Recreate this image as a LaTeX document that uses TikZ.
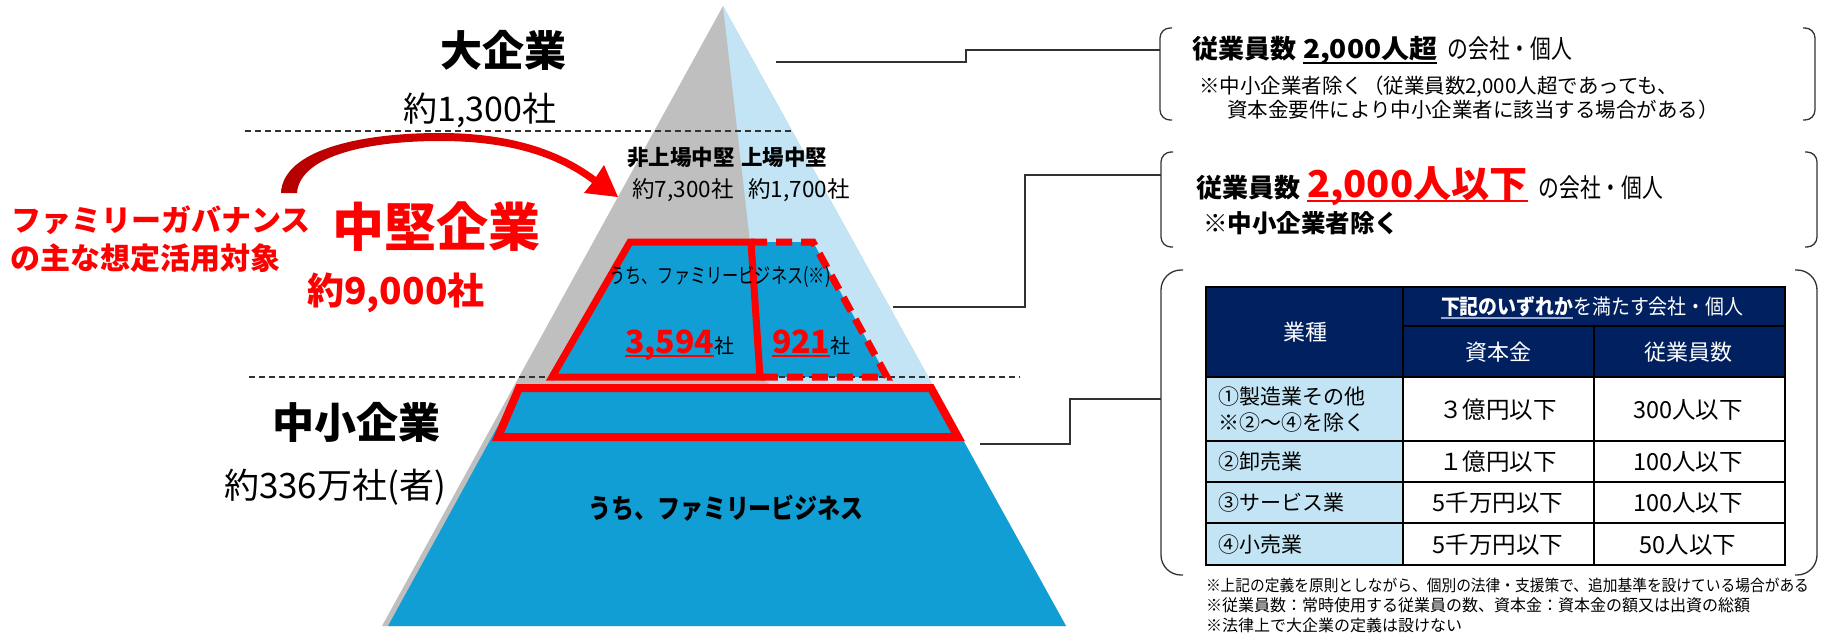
\documentclass[tikz,border=0pt]{standalone}
\usepackage{fontspec}
\usepackage{graphicx}
\setmainfont{Noto Sans CJK JP}
\usetikzlibrary{arrows.meta}
\definecolor{pgray}{RGB}{191,191,191}
\definecolor{plblue}{RGB}{194,228,244}
\definecolor{pblue}{RGB}{17,158,213}
\definecolor{pred}{RGB}{255,0,0}
\definecolor{pdred}{RGB}{180,0,0}
\definecolor{navy}{RGB}{0,32,96}
\definecolor{tlblue}{RGB}{194,228,244}
\definecolor{lineg}{RGB}{50,50,50}
\definecolor{ulblue}{RGB}{150,170,210}
\newcommand\fsz[1]{\fontsize{#1}{#1}\selectfont}
\newcommand\hs[2]{\scalebox{#1}[1]{#2}}
\begin{document}
\begin{tikzpicture}[x=1pt,y=-1pt,
  txt/.style={inner sep=0pt,outer sep=0pt},
  conn/.style={line width=1.6pt,draw=lineg},
  brk/.style={line width=1.3pt,draw=lineg,rounded corners=#1},
  guide/.style={draw=lineg,line width=1.4pt,dash pattern=on 6pt off 4pt},
  redbox/.style={draw=pred,line width=7pt},
  grid/.style={draw=black,line width=2.5pt},
]
\useasboundingbox (0,0) rectangle (1825,634);
% ---------------- pyramid ----------------
\fill[pgray] (723,6) -- (382,626) -- (1066,626) -- cycle;
\fill[plblue] (723,6) -- (766,381) -- (1066,626) -- cycle;
\fill[pblue] (630,242) -- (813,242) -- (887,377) -- (552,377) -- cycle;
\fill[pblue] (521,384) -- (932,384) -- (1066,626) -- (388,626) -- cycle;
% guide lines
\coordinate (g1a) at (245,131); \coordinate (g1b) at (792,131);
\draw[guide] (g1a) -- (g1b);
\coordinate (g2a) at (249,377); \coordinate (g2b) at (1020,377);
\draw[guide] (g2a) -- (g2b);
% red boxes
\draw[redbox] (630,242) -- (751,242) -- (760,377) -- (552,377) -- cycle;
\draw[redbox, dash pattern=on 16pt off 9pt] (751,242) -- (813,242) -- (887,377) -- (760,377);
\draw[redbox, line width=8pt] (519,388) -- (931,388) -- (958,437) -- (498,437) -- cycle;
% ---------------- red arrow ----------------
\shade[left color=pdred,right color=pred]
  (281,193) .. controls (283,150) and (360,133) .. (440,133)
  .. controls (510,133) and (560,150) .. (596,177)
  -- (604,165) -- (618,197) -- (584,193) -- (592,183)
  .. controls (556,156) and (508,141) .. (440,141)
  .. controls (370,141) and (300,155) .. (297,193) -- cycle;
% ---------------- left labels ----------------
\node[txt,font=\fsz{42}\bfseries] (daikigyo) at (503,50) {大企業};
\node[txt,font=\fsz{34}] (daikigyoN) at (480,110) {約1,300社};
\node[txt,font=\fsz{52}\bfseries,text=pred] (chuken) at (436,227) {中堅企業};
\node[txt,font=\fsz{37}\bfseries,text=pred] (chukenN) at (396,293) {約9,000社};
\node[txt,font=\fsz{30}\bfseries,text=pred,anchor=west] (fg1) at (11,220) {ファミリーガバナンス};
\node[txt,font=\fsz{30}\bfseries,text=pred,anchor=west] (fg2) at (10,258) {の主な想定活用対象};
\node[txt,font=\fsz{42}\bfseries] (chusho) at (356,422) {中小企業};
\node[txt,font=\fsz{35}] (chushoN) at (335,487) {約336万社(者)};
% ---------------- pyramid texts ----------------
\node[txt,font=\fsz{21.5}\bfseries] (hijo) at (681,157) {非上場中堅};
\node[txt,font=\fsz{21.5}\bfseries] (jojo) at (784,157) {上場中堅};
\node[txt,font=\fsz{22.5}] (hijoN) at (683,190) {約7,300社};
\node[txt,font=\fsz{22.5}] (jojoN) at (799,190) {約1,700社};
\node[txt,font=\fsz{21}] (fb1) at (720,277) {\hs{0.77}{うち、ファミリービジネス(※)}};
\node[txt,font=\fsz{32}\bfseries,text=pred,anchor=base west] (n3594) at (625,353) {3,594};
\node[txt,font=\fsz{20},anchor=base west] (s3594) at (n3594.base east) {社};
\draw[pred,line width=2pt] ([yshift=-3pt]n3594.base west) -- ([yshift=-3pt]n3594.base east);
\node[txt,font=\fsz{32}\bfseries,text=pred,anchor=base west] (n921) at (772,353) {921};
\node[txt,font=\fsz{20},anchor=base west] (s921) at (n921.base east) {社};
\draw[pred,line width=2pt] ([yshift=-3pt]n921.base west) -- ([yshift=-3pt]n921.base east);
\node[txt,font=\fsz{27}\bfseries] (fb2) at (726,508) {\hs{0.85}{うち、ファミリービジネス}};
% ---------------- brackets ----------------
\draw[brk=10] (1172,28) -- (1160,28) -- (1160,120) -- (1172,120);
\draw[brk=10] (1803,28) -- (1815,28) -- (1815,120) -- (1803,120);
\draw[brk=10] (1173,152) -- (1161,152) -- (1161,247) -- (1173,247);
\draw[brk=10] (1805,152) -- (1817,152) -- (1817,247) -- (1805,247);
\draw[brk=20] (1183,270) -- (1161,270) -- (1161,575) -- (1183,575);
\draw[brk=20] (1795,270) -- (1817,270) -- (1817,575) -- (1795,575);
% connectors
\coordinate (p1) at (776,62);  \coordinate (b1) at (1160,50);
\coordinate (p2) at (893,307); \coordinate (b2) at (1161,175);
\coordinate (p3) at (980,444); \coordinate (b3) at (1161,399);
\draw[conn] (p1) -- (966,62) |- (b1);
\draw[conn] (p2) -- (1025,307) |- (b2);
\draw[conn] (p3) -- (1070,444) |- (b3);
% ---------------- bracket 1 text ----------------
\node[txt,font=\fsz{26}\bfseries,anchor=base west] (e1a) at (1192,59) {従業員数};
\node[txt,font=\fsz{26}\bfseries,anchor=base west] (e1b) at (1303,59) {\hs{1.08}{2,000人超}};
\draw[line width=1.8pt] ([yshift=-4pt]e1b.base west) -- ([yshift=-4pt]e1b.base east);
\node[txt,font=\fsz{26},anchor=base west] (e1c) at ([xshift=10pt]e1b.base east) {\hs{0.8}{の会社・個人}};
\node[txt,font=\fsz{20.5},anchor=west] (e1d) at (1199,87) {※中小企業者除く（従業員数2,000人超であっても、};
\node[txt,font=\fsz{20.5},anchor=west] (e1e) at (1227,110) {資本金要件により中小企業者に該当する場合がある）};
% ---------------- bracket 2 text ----------------
\node[txt,font=\fsz{26}\bfseries,anchor=base west] (e2a) at (1196,197) {従業員数};
\node[txt,font=\fsz{37}\bfseries,text=pred,anchor=base west] (e2b) at (1307,197) {\hs{1.03}{2,000人以下}};
\draw[pred,line width=2pt] ([yshift=-4pt]e2b.base west) -- ([yshift=-4pt]e2b.base east);
\node[txt,font=\fsz{26},anchor=base west] (e2c) at ([xshift=11pt]e2b.base east) {\hs{0.8}{の会社・個人}};
\node[txt,font=\fsz{24.5}\bfseries,anchor=west] (e2d) at (1203,223) {※中小企業者除く};
% ---------------- table ----------------
\fill[navy] (1206,287) rectangle (1785,377);
\fill[tlblue] (1206,377) rectangle (1403,565);
\fill[white] (1403,377) rectangle (1785,565);
\draw[grid] (1206,287) rectangle (1785,565);
\draw[grid] (1403,287) -- (1403,565);
\draw[grid] (1594,326) -- (1594,565);
\draw[grid] (1403,326) -- (1785,326);
\foreach \yy in {377,441,482,523} \draw[grid] (1206,\yy) -- (1785,\yy);
\node[txt,font=\fsz{22},text=white] (h1) at (1305,332) {業種};
\node[txt,font=\fsz{21}\bfseries,text=white,anchor=base west] (h2a) at (1441,314) {\hs{0.9}{下記のいずれか}};
\node[txt,font=\fsz{21},text=white,anchor=base west] (h2b) at (h2a.base east) {\hs{0.9}{を満たす会社・個人}};
\draw[ulblue,line width=1.5pt] ([yshift=-4pt]h2a.base west) -- ([yshift=-4pt]h2a.base east);
\node[txt,font=\fsz{22},text=white] (h3) at (1498,352) {資本金};
\node[txt,font=\fsz{22},text=white] (h4) at (1688,352) {従業員数};
\node[txt,font=\fsz{21},anchor=west] (r1a) at (1218,397) {①製造業その他};
\node[txt,font=\fsz{21},anchor=west] (r1b) at (1218,423) {※②～④を除く};
\node[txt,font=\fsz{21},anchor=west] (r2) at (1218,462) {②卸売業};
\node[txt,font=\fsz{21},anchor=west] (r3) at (1218,503) {③サービス業};
\node[txt,font=\fsz{21},anchor=west] (r4) at (1218,545) {④小売業};
\node[txt,font=\fsz{23.5}] (v1a) at (1498,410) {３億円以下};
\node[txt,font=\fsz{23.5}] (v1b) at (1688,410) {300人以下};
\node[txt,font=\fsz{23.5}] (v2a) at (1498,462) {１億円以下};
\node[txt,font=\fsz{23.5}] (v2b) at (1688,462) {100人以下};
\node[txt,font=\fsz{23.5}] (v3a) at (1498,503) {5千万円以下};
\node[txt,font=\fsz{23.5}] (v3b) at (1688,503) {100人以下};
\node[txt,font=\fsz{23.5}] (v4a) at (1498,545) {5千万円以下};
\node[txt,font=\fsz{23.5}] (v4b) at (1688,545) {50人以下};
% ---------------- footnotes ----------------
\node[txt,font=\fsz{16},anchor=west] (f1) at (1206,585) {\hs{0.92}{※上記の定義を原則としながら、個別の法律・支援策で、追加基準を設けている場合がある}};
\node[txt,font=\fsz{16.5},anchor=west] (f2) at (1206,605) {\hs{0.97}{※従業員数：常時使用する従業員の数、資本金：資本金の額又は出資の総額}};
\node[txt,font=\fsz{16},anchor=west] (f3) at (1206,625) {※法律上で大企業の定義は設けない};
\end{tikzpicture}
\end{document}
